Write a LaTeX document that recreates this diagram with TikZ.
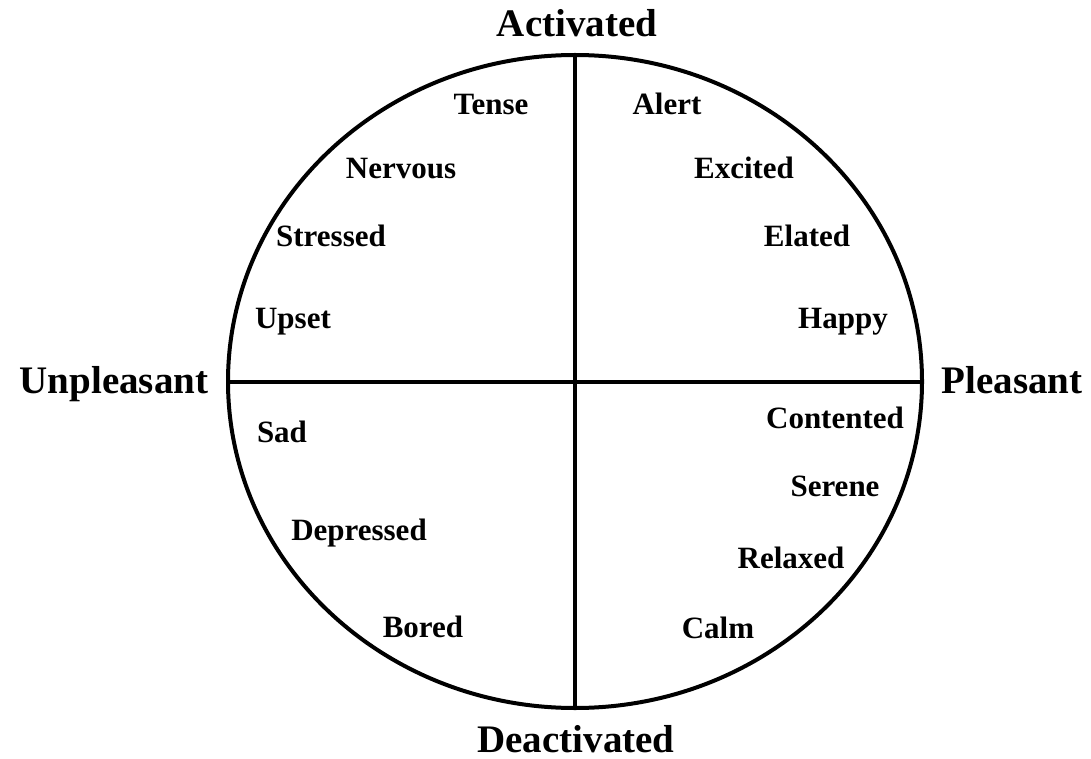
\documentclass[tikz,border=0pt]{standalone}
\usepackage{fontspec}
\setmainfont{Liberation Serif}
\usepackage{tikz}
\usetikzlibrary{shapes.geometric}

\tikzset{
  emo/.style={anchor=base,font=\bfseries\fontsize{31}{31}\selectfont},
  pole/.style={anchor=base,font=\bfseries\fontsize{39}{39}\selectfont},
  rimline/.style={line width=4pt,black}
}

\begin{document}
\begin{tikzpicture}[x=1pt,y=-1pt]
\useasboundingbox (0,0) rectangle (1091,759);
\node[ellipse,draw,rimline,minimum width=694pt,minimum height=653pt,inner sep=0pt,outer sep=0pt] (rim) at (575,381.5) {};
\draw[rimline] (rim.north) -- (rim.south);
\draw[rimline] (rim.west) -- (rim.east);
% poles
\node[pole] (act) at (577,37) {Activated};
\node[pole] (deact) at (576,752) {Deactivated};
\node[pole] (unpl) at (114,393) {Unpleasant};
\node[pole] (pleas) at (1012,393) {Pleasant};
% feelings
\foreach \n/\x/\y/\t in {tense/491/115/Tense,alert/667/115/Alert,
  nervous/401/179/Nervous,excited/744/179/Excited,
  stressed/331/247/Stressed,elated/807/247/Elated,
  upset/293/328/Upset,happy/843/328/Happy,
  contented/835/428/Contented,sad/282/442/Sad,
  serene/835/496/Serene,depressed/359/540/Depressed,
  relaxed/791/568/Relaxed,bored/423/637/Bored,calm/718/638/Calm}{
  \node[emo] (\n) at (\x,\y) {\t};
}
\end{tikzpicture}
\end{document}
